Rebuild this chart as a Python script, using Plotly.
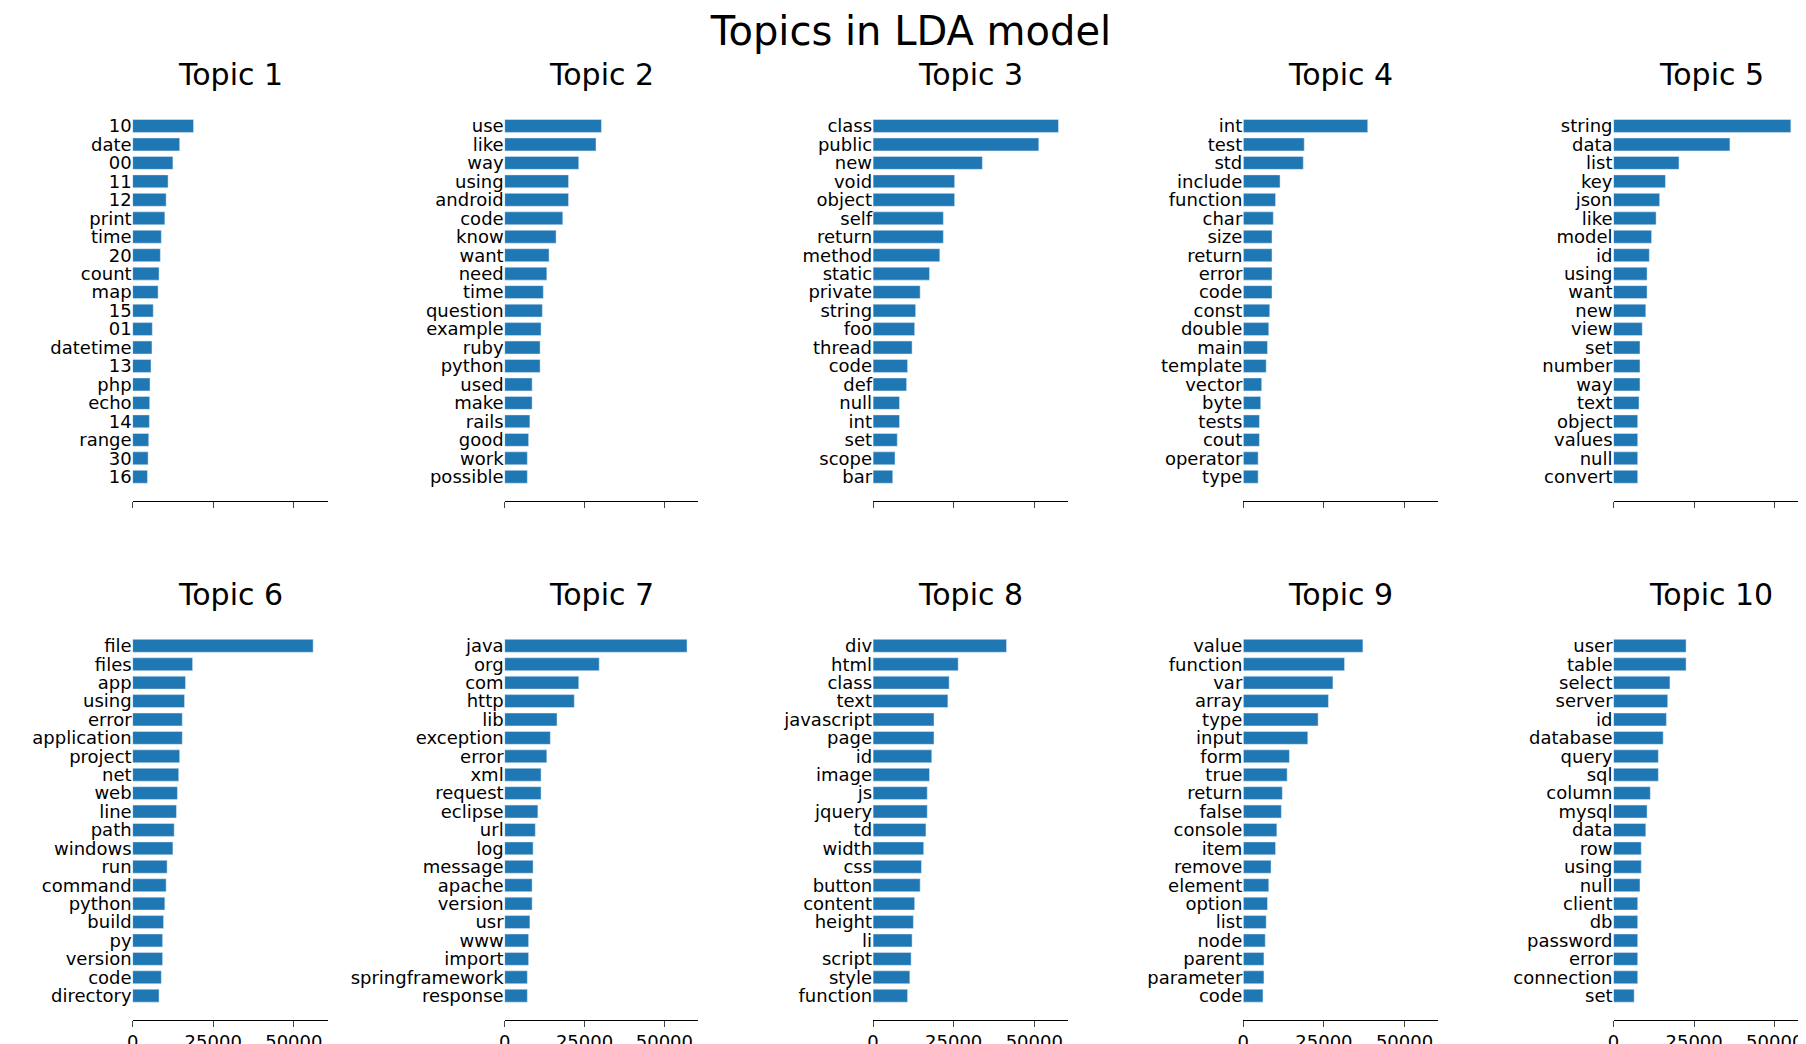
import plotly.graph_objects as go

topic_words = [
    ["10", "date", "00", "11", "12", "print", "time", "20", "count", "map",
     "15", "01", "datetime", "13", "php", "echo", "14", "range", "30", "16"],
    ["use", "like", "way", "using", "android", "code", "know", "want", "need", "time",
     "question", "example", "ruby", "python", "used", "make", "rails", "good", "work", "possible"],
    ["class", "public", "new", "void", "object", "self", "return", "method", "static", "private",
     "string", "foo", "thread", "code", "def", "null", "int", "set", "scope", "bar"],
    ["int", "test", "std", "include", "function", "char", "size", "return", "error", "code",
     "const", "double", "main", "template", "vector", "byte", "tests", "cout", "operator", "type"],
    ["string", "data", "list", "key", "json", "like", "model", "id", "using", "want",
     "new", "view", "set", "number", "way", "text", "object", "values", "null", "convert"],
    ["file", "files", "app", "using", "error", "application", "project", "net", "web", "line",
     "path", "windows", "run", "command", "python", "build", "py", "version", "code", "directory"],
    ["java", "org", "com", "http", "lib", "exception", "error", "xml", "request", "eclipse",
     "url", "log", "message", "apache", "version", "usr", "www", "import", "springframework", "response"],
    ["div", "html", "class", "text", "javascript", "page", "id", "image", "js", "jquery",
     "td", "width", "css", "button", "content", "height", "li", "script", "style", "function"],
    ["value", "function", "var", "array", "type", "input", "form", "true", "return", "false",
     "console", "item", "remove", "element", "option", "list", "node", "parent", "parameter", "code"],
    ["user", "table", "select", "server", "id", "database", "query", "sql", "column", "mysql",
     "data", "row", "using", "null", "client", "db", "password", "error", "connection", "set"],
]

topic_weights = [
    [18900, 14600, 12500, 11000, 10400, 10000, 8900, 8600, 8200, 7900,
     6400, 6100, 6000, 5700, 5400, 5300, 5200, 5000, 4800, 4600],
    [30300, 28600, 23200, 20000, 20000, 18200, 16100, 13900, 13200, 12100,
     11800, 11400, 11100, 11100, 8600, 8600, 7900, 7500, 7100, 7100],
    [57500, 51400, 33900, 25300, 25300, 21800, 21800, 20700, 17500, 14600,
     13200, 12900, 12100, 10700, 10400, 8200, 8200, 7500, 6800, 6100],
    [38600, 18900, 18600, 11400, 10000, 9300, 8900, 8900, 8900, 8900,
     8200, 7900, 7500, 7100, 5700, 5400, 5000, 5000, 4600, 4600],
    [55000, 36100, 20300, 16100, 14300, 13200, 11800, 11100, 10400, 10400,
     10000, 8900, 8200, 8200, 8200, 7900, 7500, 7500, 7500, 7500],
    [56000, 18600, 16400, 16100, 15400, 15400, 14600, 14300, 13900, 13600,
     12900, 12500, 10700, 10400, 10000, 9600, 9300, 9300, 8900, 8200],
    [57100, 29600, 23200, 21800, 16400, 14300, 13200, 11400, 11400, 10400,
     9600, 8900, 8900, 8600, 8600, 7900, 7500, 7500, 7100, 7100],
    [41400, 26400, 23600, 23200, 18900, 18900, 18200, 17500, 16800, 16800,
     16400, 15700, 15000, 14600, 12900, 12500, 12100, 11800, 11400, 10700],
    [37100, 31400, 27800, 26400, 23200, 20000, 14300, 13600, 12100, 11800,
     10400, 10000, 8600, 7900, 7500, 7100, 6800, 6400, 6400, 6100],
    [22500, 22500, 17500, 16800, 16400, 15400, 13900, 13900, 11400, 10400,
     10000, 8600, 8600, 8200, 7500, 7500, 7500, 7500, 7500, 6400],
]

x_domains = [(0.069, 0.177), (0.275, 0.382), (0.479, 0.587), (0.684, 0.792), (0.889, 0.997)]
y_domains = [(0.528, 0.91), (0.031, 0.412)]

fig = go.Figure()
font = dict(family="DejaVu Sans", color="black")

for i in range(10):
    row, col = divmod(i, 5)
    n = i + 1
    ax = "" if n == 1 else str(n)
    pos = list(range(len(topic_words[i])))
    fig.add_trace(go.Bar(x=topic_weights[i], y=pos, orientation="h", width=0.7,
                         marker_color="#1f77b4", xaxis="x" + ax, yaxis="y" + ax,
                         showlegend=False))
    fig.layout["xaxis" + ax] = dict(
        domain=x_domains[col], anchor="y" + ax, range=[0, 60500],
        tickvals=[0, 25000, 50000], ticktext=["0", "25000", "50000"],
        showticklabels=(row == 1), automargin=False,
        showline=True, linecolor="black", ticks="outside", ticklen=6,
        showgrid=False, zeroline=False, tickfont=dict(size=18))
    fig.layout["yaxis" + ax] = dict(
        domain=y_domains[row], anchor="x" + ax, range=[20.3, -1.3],
        tickvals=pos, ticktext=topic_words[i], showline=False, automargin=False,
        showgrid=False, zeroline=False, ticks="", tickfont=dict(size=18))
    fig.add_annotation(text=f"Topic {n}", x=0.5, y=1.02,
                       xref=f"x{ax} domain", yref=f"y{ax} domain", showarrow=False,
                       xanchor="center", yanchor="bottom", font=dict(size=30))

fig.update_layout(
    width=1806, height=1044, font=font, plot_bgcolor="white", paper_bgcolor="white",
    margin=dict(l=0, r=0, t=0, b=0),
    title=dict(text="Topics in LDA model", x=0.5, y=0.978, xanchor="center",
               yanchor="middle", font=dict(size=40)),
)

fig.write_html("out.html")
